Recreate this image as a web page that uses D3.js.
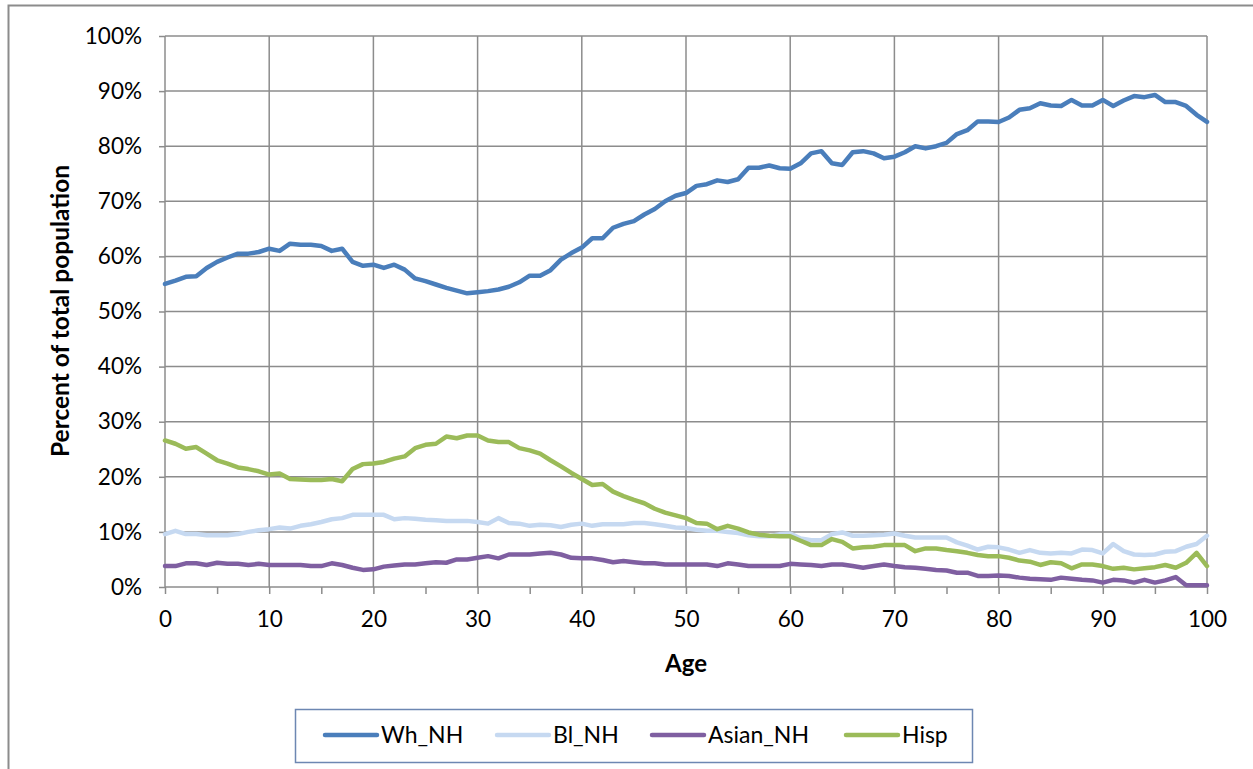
<!DOCTYPE html>
<html>
<head>
<meta charset="utf-8">
<script src="https://cdn.jsdelivr.net/npm/d3@7"></script>
<style>
  html, body { margin: 0; padding: 0; background: #fff; }
  svg { display: block; }
  text { font-family: Lato, "Open Sans", sans-serif; fill: #000; }
</style>
</head>
<body>
<svg id="chart" width="1253" height="769"></svg>
<script>
const ages = d3.range(0, 101);
const whNH = [55.0,55.6,56.3,56.4,57.9,59.0,59.8,60.5,60.5,60.8,61.4,61.0,62.3,62.1,62.1,61.9,61.0,61.4,59.0,58.3,58.5,57.9,58.5,57.6,56.0,55.5,54.9,54.3,53.8,53.3,53.5,53.7,54.0,54.5,55.3,56.5,56.5,57.5,59.4,60.6,61.6,63.3,63.3,65.2,65.9,66.4,67.6,68.6,70.0,71.0,71.5,72.8,73.1,73.8,73.5,74.0,76.1,76.1,76.5,76.0,75.9,76.9,78.7,79.1,76.9,76.6,78.9,79.1,78.7,77.8,78.1,78.9,80.0,79.6,80.0,80.6,82.2,82.9,84.5,84.5,84.4,85.2,86.6,86.9,87.8,87.4,87.3,88.4,87.4,87.4,88.4,87.3,88.3,89.1,88.9,89.3,88.0,88.0,87.3,85.7,84.4];
const blNH = [9.6,10.2,9.6,9.6,9.4,9.4,9.4,9.6,10.0,10.3,10.5,10.8,10.6,11.1,11.4,11.8,12.3,12.5,13.1,13.1,13.1,13.1,12.3,12.5,12.4,12.2,12.1,12.0,12.0,12.0,11.8,11.5,12.5,11.6,11.5,11.1,11.3,11.2,10.9,11.3,11.5,11.1,11.4,11.4,11.4,11.6,11.6,11.4,11.1,10.8,10.7,10.4,10.2,10.2,10.0,9.8,9.4,9.2,9.2,9.6,9.7,8.8,8.5,8.5,9.6,9.9,9.3,9.3,9.4,9.5,9.7,9.3,9.0,9.0,9.0,9.0,8.1,7.5,6.8,7.3,7.2,6.8,6.2,6.7,6.2,6.1,6.2,6.1,6.8,6.7,6.1,7.8,6.5,5.9,5.8,5.9,6.4,6.5,7.3,7.8,9.3];
const asianNH = [3.8,3.8,4.3,4.3,4.0,4.4,4.2,4.2,4.0,4.2,4.0,4.0,4.0,4.0,3.8,3.8,4.3,4.0,3.5,3.1,3.2,3.7,3.9,4.1,4.1,4.3,4.5,4.4,5.0,5.0,5.3,5.6,5.2,5.9,5.9,5.9,6.1,6.2,5.9,5.3,5.2,5.2,4.9,4.5,4.7,4.5,4.3,4.3,4.1,4.1,4.1,4.1,4.1,3.8,4.3,4.1,3.8,3.8,3.8,3.8,4.2,4.1,4.0,3.8,4.1,4.1,3.8,3.5,3.8,4.1,3.8,3.6,3.5,3.3,3.1,3.0,2.6,2.6,2.0,2.0,2.1,2.0,1.7,1.5,1.4,1.3,1.7,1.5,1.3,1.2,0.8,1.3,1.2,0.8,1.3,0.8,1.2,1.8,0.3,0.3,0.3];
const hisp = [26.6,26.0,25.1,25.4,24.2,23.0,22.4,21.7,21.4,21.0,20.4,20.6,19.6,19.5,19.4,19.4,19.6,19.2,21.4,22.3,22.4,22.7,23.3,23.7,25.2,25.8,26.0,27.3,27.0,27.5,27.5,26.6,26.3,26.3,25.2,24.8,24.2,23.0,21.9,20.7,19.6,18.5,18.7,17.3,16.5,15.8,15.2,14.2,13.5,13.0,12.5,11.6,11.5,10.5,11.1,10.6,9.9,9.5,9.3,9.2,9.2,8.4,7.6,7.6,8.7,8.2,7.0,7.2,7.3,7.6,7.6,7.6,6.5,7.0,7.0,6.7,6.5,6.2,5.8,5.6,5.6,5.3,4.8,4.6,4.0,4.5,4.3,3.4,4.1,4.1,3.8,3.3,3.5,3.2,3.4,3.6,4.0,3.5,4.4,6.2,3.8];

const seriesNames = ["Wh_NH", "Bl_NH", "Asian_NH", "Hisp"];
const seriesColors = ["#4A7EBB", "#C6D9F1", "#7F5FA1", "#9BBB59"];
const seriesValues = [whNH, blNH, asianNH, hisp];
const xTicks = d3.range(0, 101, 10);
const xMinorTicks = d3.range(5, 100, 10);
const yTicks = d3.range(0, 101, 10);

const svg = d3.select("#chart");
const pLeft = 165, pRight = 1207, pTop = 36, pBottom = 587;

svg.append("rect").attr("x", 8.5).attr("y", 5.5).attr("width", 1260).attr("height", 780)
  .attr("fill", "none").attr("stroke", "#8C8C8C").attr("stroke-width", 2);

const x = d3.scaleLinear().domain([0, 100]).range([pLeft, pRight]);
const y = d3.scaleLinear().domain([0, 100]).range([pBottom, pTop]);

const gridColor = "#8C8C8C";

const yAxis = svg.append("g").attr("transform", `translate(${pLeft},0)`)
  .call(d3.axisLeft(y).tickValues(yTicks).tickSize(6).tickPadding(17).tickFormat(d => d + "%"));
yAxis.select(".domain").remove();
yAxis.selectAll("line").attr("stroke", gridColor).attr("stroke-width", 1.5);
yAxis.selectAll("text").attr("font-size", 22.5).attr("fill", "#000");
svg.append("g").selectAll("line").data(yTicks).join("line")
  .attr("x1", pLeft).attr("x2", pRight).attr("y1", d => y(d)).attr("y2", d => y(d))
  .attr("stroke", gridColor).attr("stroke-width", 1.5);

svg.append("g").selectAll("line").data(xTicks).join("line")
  .attr("x1", d => x(d)).attr("x2", d => x(d)).attr("y1", pTop).attr("y2", pBottom)
  .attr("stroke", gridColor).attr("stroke-width", 1.5);

const xAxis = svg.append("g").attr("transform", `translate(0,${pBottom})`)
  .call(d3.axisBottom(x).tickValues(xTicks).tickSize(7).tickPadding(17).tickFormat(d3.format("d")));
xAxis.select(".domain").remove();
xAxis.selectAll("line").attr("stroke", gridColor).attr("stroke-width", 1.5);
xAxis.selectAll("text").attr("font-size", 22.5).attr("fill", "#000");
const xMinor = svg.append("g").attr("transform", `translate(0,${pBottom})`)
  .call(d3.axisBottom(x).tickValues(xMinorTicks).tickSize(7).tickFormat(""));
xMinor.select(".domain").remove();
xMinor.selectAll("line").attr("stroke", gridColor).attr("stroke-width", 1.5);

const line = d3.line().x((d, i) => x(ages[i])).y(d => y(d));
seriesValues.forEach((vals, k) => {
  svg.append("path").datum(vals).attr("d", line)
    .attr("fill", "none").attr("stroke", seriesColors[k]).attr("stroke-width", 4.5)
    .attr("stroke-linejoin", "round").attr("stroke-linecap", "round");
});

svg.append("text").attr("x", 686).attr("y", 672).attr("text-anchor", "middle")
  .attr("font-size", 24).attr("font-weight", "bold").text("Age");
svg.append("text").attr("transform", "translate(69,311) rotate(-90)").attr("text-anchor", "middle")
  .attr("font-size", 24.5).attr("font-weight", "bold").text("Percent of total population");

const lg = svg.append("g");
lg.append("rect").attr("x", 295.5).attr("y", 709.5).attr("width", 677).attr("height", 53)
  .attr("fill", "#fff").attr("stroke", "#6D87B2").attr("stroke-width", 1.5);
const legendX = [325, 497, 652, 846];
seriesNames.forEach((name, k) => {
  lg.append("line").attr("x1", legendX[k]).attr("x2", legendX[k] + 52).attr("y1", 735).attr("y2", 735)
    .attr("stroke", seriesColors[k]).attr("stroke-width", 4.5).attr("stroke-linecap", "round");
  lg.append("text").attr("x", legendX[k] + 56).attr("y", 743).attr("font-size", 23).text(name);
});
</script>
</body>
</html>
